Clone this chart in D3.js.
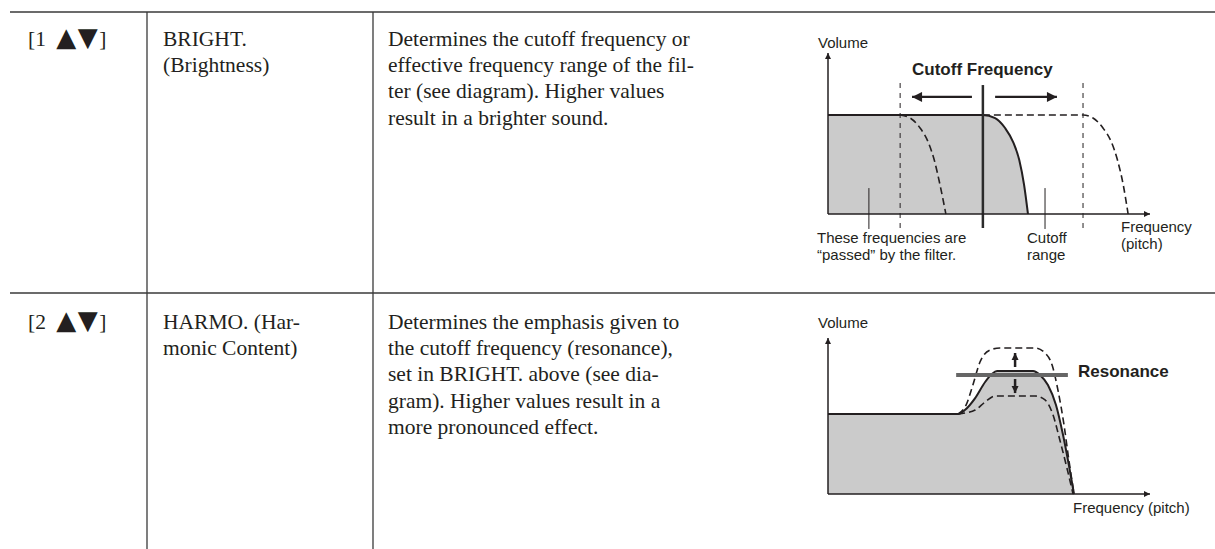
<!DOCTYPE html>
<html>
<head>
  <meta http-equiv="Content-Type" content="text/html;charset=utf-8">
  <title>Filter parameters</title>
  <script src="https://d3js.org/d3.v7.min.js"></script>
  <style type="text/css">
    body { margin: 0; background: #fff; }
    text { fill: #231f20; }
    .body { font-family: "Liberation Serif", "Times New Roman", serif; font-size: 21.5px; }
    .tri { font-family: "DejaVu Sans", sans-serif; font-size: 26px; letter-spacing: 1.5px; }
    .lbl { font-family: "Liberation Sans", Arial, sans-serif; font-size: 15px; }
    .bold { font-weight: bold; font-size: 17px; }
    .rule { stroke: #3a3a3a; stroke-width: 1.3; }
    .axis { stroke: #231f20; stroke-width: 1.5; fill: none; }
    .solid { stroke: #231f20; stroke-width: 2; fill: none; }
    .dash { stroke: #231f20; stroke-width: 1.6; fill: none; stroke-dasharray: 7,4; }
    .thin { stroke: #231f20; stroke-width: 1; }
  </style>
</head>
<body>
  <svg width="1215" height="549"></svg>
  <script type='text/javascript'>
    // table contents
    const keys = [['[1 ', '▲▼', ']'], ['[2 ', '▲▼', ']']];
    const names = [['BRIGHT.', '(Brightness)'], ['HARMO. (Har-', 'monic Content)']];
    const descriptions = [
      ['Determines the cutoff frequency or', 'effective frequency range of the fil-',
       'ter (see diagram). Higher values', 'result in a brighter sound.'],
      ['Determines the emphasis given to', 'the cutoff frequency (resonance),',
       'set in BRIGHT. above (see dia-', 'gram). Higher values result in a',
       'more pronounced effect.']
    ];

    // diagram 1 (frequency / volume, 0-100)
    const passCurve = [[0, 61.5], [48.1, 61.5], [51.9, 59.6], [55, 53.4], [57.5, 44.7],
      [59.4, 33.5], [60.9, 18], [62.1, 0]];
    const lowerCurve = [[22.4, 61.5], [25.5, 59.6], [28.6, 53.4], [31.1, 44.7],
      [33, 33.5], [34.8, 18], [36.6, 0]];
    const upperCurve = [[48.1, 61.5], [79.2, 61.5], [82.3, 59.6], [85.4, 53.4], [88, 44.7],
      [89.9, 33.5], [91.7, 18], [93.2, 0]];
    const cutoff = 48.1;
    const cutoffRange = [22.4, 79.2];
    const pointers = [12.7, 67.4];
    const moveArrows = [[44.7, 26.1], [51.9, 71.1]];

    // diagram 2
    const resoCurve = [[0, 51.3], [40.4, 51.3], [42.5, 53.8], [45.7, 61.5], [48.8, 71.8],
      [50.9, 76.9], [52.5, 78.8], [63.7, 78.8], [65.8, 76.3], [68.3, 69.9], [70.8, 57.1],
      [73, 37.8], [74.8, 18.6], [76.4, 0]];
    const resoHigh = [[40.4, 51.3], [42.9, 57.1], [45, 69.9], [47.2, 84.6], [50.3, 92.3],
      [53.4, 93.6], [64.3, 93.6], [67.4, 90.4], [69.6, 82.7], [71.4, 66.7], [73.3, 44.2],
      [74.8, 21.8], [76.4, 0]];
    const resoLow = [[40.4, 51.3], [42.5, 51.9], [45.7, 53.8], [48.8, 59], [51.9, 62.8],
      [53.4, 62.8], [64.3, 62.8], [67.4, 60.3], [69.9, 50.6], [72, 34.6], [74.2, 16.7],
      [76.1, 0]];
    const resoLevel = 76.3;
    const resoSpan = [39.8, 74.5];
    const resoArrows = [[81.4, 90.4], [73.7, 64.7]];
    const resoArrowX = 58.1;

    const svg = d3.select('svg');

    const defs = svg.append('defs');
    function head(id, w, h) {
      defs.append('marker')
        .attr('id', id)
        .attr('viewBox', '0 0 10 10')
        .attr('refX', 10).attr('refY', 5)
        .attr('markerUnits', 'userSpaceOnUse')
        .attr('markerWidth', w).attr('markerHeight', h)
        .attr('orient', 'auto')
        .append('path').attr('d', 'M0,0L10,5L0,10Z').attr('fill', '#231f20');
    }
    head('axisHead', 8, 6);
    head('bigHead', 13, 10);
    head('smallHead', 7, 9);

    // table rules
    svg.append('line').attr('class', 'rule').attr('x1', 10).attr('x2', 1215).attr('y1', 12).attr('y2', 12);
    svg.append('line').attr('class', 'rule').attr('x1', 10).attr('x2', 1215).attr('y1', 293).attr('y2', 293);
    [147, 373].forEach(x => {
      svg.append('line').attr('class', 'rule').attr('x1', x).attr('x2', x).attr('y1', 12).attr('y2', 549);
    });

    const rowTop = [46, 329];
    const pitch = 26.2;
    keys.forEach((k, i) => {
      const t = svg.append('text').attr('class', 'body').attr('x', 28).attr('y', rowTop[i]);
      t.append('tspan').text(k[0]);
      t.append('tspan').attr('class', 'tri').attr('dx', 5).attr('dy', -0.5).text(k[1]);
      t.append('tspan').attr('dy', 0.5).text(k[2]);
      names[i].forEach((s, j) => {
        svg.append('text').attr('class', 'body').attr('x', 163).attr('y', rowTop[i] + j * pitch).text(s);
      });
      descriptions[i].forEach((s, j) => {
        svg.append('text').attr('class', 'body').attr('x', 388).attr('y', rowTop[i] + j * pitch).text(s);
      });
    });

    function frame(g, x, y) {
      g.append('line').attr('class', 'axis')
        .attr('x1', x(0)).attr('x2', x(0)).attr('y1', y(0)).attr('y2', y(100))
        .attr('marker-end', 'url(#axisHead)');
      g.append('line').attr('class', 'axis')
        .attr('x1', x(0)).attr('x2', x(100)).attr('y1', y(0)).attr('y2', y(0))
        .attr('marker-end', 'url(#axisHead)');
    }

    // ---- diagram 1 ----
    const g1 = svg.append('g');
    const x1 = d3.scaleLinear().domain([0, 100]).range([828, 1150]);
    const y1 = d3.scaleLinear().domain([0, 100]).range([214, 53]);
    const line1 = d3.line().x(d => x1(d[0])).y(d => y1(d[1])).curve(d3.curveMonotoneX);
    const area1 = d3.area().x(d => x1(d[0])).y0(y1(0)).y1(d => y1(d[1])).curve(d3.curveMonotoneX);

    g1.append('path').datum(passCurve).attr('d', area1).attr('fill', '#cbcbcb');
    g1.append('path').datum(passCurve).attr('d', line1).attr('class', 'solid');
    g1.append('path').datum(lowerCurve).attr('d', line1).attr('class', 'dash');
    g1.append('path').datum(upperCurve).attr('d', line1).attr('class', 'dash');

    g1.selectAll('.range').data(cutoffRange).enter().append('line')
      .attr('class', 'range')
      .attr('x1', d => x1(d)).attr('x2', d => x1(d))
      .attr('y1', y1(-8.7)).attr('y2', y1(81.4))
      .attr('stroke', '#231f20').attr('stroke-width', 1).attr('stroke-dasharray', '5,5');
    g1.append('line')
      .attr('x1', x1(cutoff)).attr('x2', x1(cutoff))
      .attr('y1', y1(-8.7)).attr('y2', y1(80.1))
      .attr('stroke', '#2b2b2b').attr('stroke-width', 2.5);
    g1.selectAll('.move').data(moveArrows).enter().append('line')
      .attr('class', 'move')
      .attr('x1', d => x1(d[0])).attr('x2', d => x1(d[1]))
      .attr('y1', y1(72.7)).attr('y2', y1(72.7))
      .attr('stroke', '#231f20').attr('stroke-width', 2.2)
      .attr('marker-end', 'url(#bigHead)');
    g1.selectAll('.ptr').data(pointers).enter().append('line')
      .attr('class', 'ptr thin')
      .attr('x1', d => x1(d)).attr('x2', d => x1(d))
      .attr('y1', y1(16.1)).attr('y2', y1(-9.3));
    frame(g1, x1, y1);

    g1.append('text').attr('class', 'lbl').attr('x', 818).attr('y', 48).text('Volume');
    g1.append('text').attr('class', 'lbl bold').attr('x', x1(26.1)).attr('y', 75).text('Cutoff Frequency');
    const notes1 = [
      {x: 817, lines: ['These frequencies are', '“passed” by the filter.']},
      {x: 1027, lines: ['Cutoff', 'range']}
    ];
    notes1.forEach(n => {
      n.lines.forEach((s, j) => {
        g1.append('text').attr('class', 'lbl').attr('x', n.x).attr('y', 243 + j * 16.9).text(s);
      });
    });
    ['Frequency', '(pitch)'].forEach((s, j) => {
      g1.append('text').attr('class', 'lbl').attr('x', 1121).attr('y', 232 + j * 16.9).text(s);
    });

    // ---- diagram 2 ----
    const g2 = svg.append('g');
    const x2 = d3.scaleLinear().domain([0, 100]).range([828, 1150]);
    const y2 = d3.scaleLinear().domain([0, 100]).range([494, 338]);
    const line2 = d3.line().x(d => x2(d[0])).y(d => y2(d[1])).curve(d3.curveMonotoneX);
    const area2 = d3.area().x(d => x2(d[0])).y0(y2(0)).y1(d => y2(d[1])).curve(d3.curveMonotoneX);

    g2.append('path').datum(resoCurve).attr('d', area2).attr('fill', '#cbcbcb');
    g2.append('path').datum(resoHigh).attr('d', line2).attr('class', 'dash').attr('stroke-width', 1.4);
    g2.append('path').datum(resoLow).attr('d', line2).attr('class', 'dash').attr('stroke-width', 1.4);
    g2.append('path').datum(resoCurve).attr('d', line2).attr('class', 'solid');
    g2.append('line')
      .attr('x1', x2(resoSpan[0])).attr('x2', x2(resoSpan[1]))
      .attr('y1', y2(resoLevel)).attr('y2', y2(resoLevel))
      .attr('stroke', '#666').attr('stroke-width', 4);
    g2.selectAll('.reso').data(resoArrows).enter().append('line')
      .attr('class', 'reso')
      .attr('x1', x2(resoArrowX)).attr('x2', x2(resoArrowX))
      .attr('y1', d => y2(d[0])).attr('y2', d => y2(d[1]))
      .attr('stroke', '#231f20').attr('stroke-width', 2.5)
      .attr('marker-end', 'url(#smallHead)');
    frame(g2, x2, y2);

    g2.append('text').attr('class', 'lbl').attr('x', 818).attr('y', 328).text('Volume');
    g2.append('text').attr('class', 'lbl bold').attr('x', 1078).attr('y', 377).text('Resonance');
    g2.append('text').attr('class', 'lbl').attr('x', 1073).attr('y', 513).text('Frequency (pitch)');
  </script>
</body>
</html>
